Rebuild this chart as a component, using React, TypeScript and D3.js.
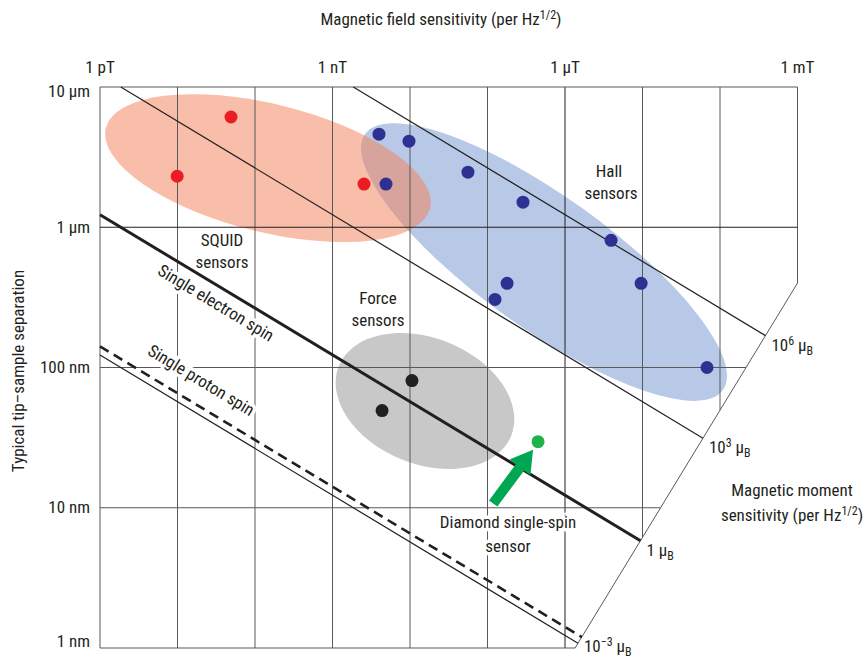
import React from 'react';
import * as d3 from 'd3';

const W = 866;
const H = 658;
const MU_B = 9.274e-24; // J/T
const MU0_OVER_2PI = 2e-7;

// Axis ticks
const fieldTicks = [1e-12, 1e-9, 1e-6, 1e-3]; // tesla
const fieldTickLabels = ['1 pT', '1 nT', '1 μT', '1 mT'];
const distTicks = [10000, 1000, 100, 10, 1]; // nm
const distTickLabels = ['10 μm', '1 μm', '100 nm', '10 nm', '1 nm'];

// Sensor data: field sensitivity (T/√Hz) vs typical tip-sample separation (nm)
const squidB = [4.9e-11, 9.9e-12, 2.55e-9];
const squidR = [6110, 2310, 2030];
const hallB = [3.98e-9, 9.7e-9, 5.6e-8, 2.87e-7, 3.93e-6, 4.9e-9, 1.79e-7, 1.25e-7, 9.6e-6, 6.8e-5];
const hallR = [4610, 4110, 2470, 1510, 807, 2030, 398, 306, 398, 100];
const forceB = [1.06e-8, 4.36e-9];
const forceR = [80.7, 49.3];
const diamondB = [4.49e-7];
const diamondR = [29.6];

// Ellipse regions (centres in data units)
const regionNames = ['SQUID', 'Hall', 'Force'];
const regionCenterB = [1.47e-10, 5.36e-7, 1.56e-8];
const regionCenterR = [2640, 565, 57.7];

// Magnetic moment iso-lines (in Bohr magnetons)
const momentLevels = [1e-3, 1, 1e3, 1e6];
const momentExponents = ['−3', '', '3', '6'];
const electronMoment = 1;
const protonMoment = 1.521e-3;

// Moment-axis boundary (data units)
const boundaryTopB = 1e-3;
const boundaryTopR = 400;
const boundaryBottomB = 1.35e-6;
const boundaryBottomR = 1;

const FONT = "'Liberation Sans Narrow', 'Roboto Condensed', Roboto, sans-serif";
const TXT = '#231f20';
const FS = 17;
const FS_SMALL = 12;

const x = d3.scaleLog().domain([1e-12, 1e-3]).range([100, 797.5]);
const y = d3.scaleLog().domain([1, 1e4]).range([648, 87]);

const fieldOf = (m: number, rNm: number) => MU0_OVER_2PI * m * MU_B / Math.pow(rNm * 1e-9, 3);
const radiusOf = (m: number, B: number) => Math.cbrt(MU0_OVER_2PI * m * MU_B / B) * 1e9;

type P = [number, number];
const P1: P = [x(boundaryTopB), y(boundaryTopR)];
const P2: P = [x(boundaryBottomB), y(boundaryBottomR)];

function intersect(a: P, b: P, c: P, d: P): P {
  const r = [b[0] - a[0], b[1] - a[1]];
  const s = [d[0] - c[0], d[1] - c[1]];
  const den = r[0] * s[1] - r[1] * s[0];
  const t = ((c[0] - a[0]) * s[1] - (c[1] - a[1]) * s[0]) / den;
  return [a[0] + t * r[0], a[1] + t * r[1]];
}

function momentLine(m: number): [P, P] {
  const r0 = radiusOf(m, 1e-12);
  let start: P;
  if (r0 > 1e4) start = [x(fieldOf(m, 1e4)), y(1e4)];
  else start = [x(1e-12), y(r0)];
  const far: P = [x(fieldOf(m, 1)), y(1)];
  const end = intersect(start, far, P1, P2);
  return [start, end];
}

function boundaryYAtX(px: number) {
  if (px <= P2[0]) return P2[1];
  return P2[1] + (px - P2[0]) * (P1[1] - P2[1]) / (P1[0] - P2[0]);
}
function boundaryXAtY(py: number) {
  if (py <= P1[1]) return P1[0];
  return P1[0] + (py - P1[1]) * (P2[0] - P1[0]) / (P2[1] - P1[1]);
}

const ellipseStyle = [
  { a: 167, b: 64, angle: 13.9, fill: '#f4825a', opacity: 0.52 },
  { a: 220, b: 66, angle: 35.6, fill: '#b8c9e7', opacity: 1 },
  { a: 93, b: 63, angle: 22.2, fill: '#c8c8c8', opacity: 1 },
];

function Dots({ B, R, color }: { B: number[]; R: number[]; color: string }) {
  return (
    <g>
      {B.map((b, i) => (
        <circle key={i} cx={x(b)} cy={y(R[i])} r={6.5} fill={color} />
      ))}
    </g>
  );
}

export default function App() {
  const fieldGrid = d3.range(-12, -2).map((e) => Math.pow(10, e));
  const distGrid = d3.range(0, 5).map((e) => Math.pow(10, e));

  const electron = momentLine(electronMoment);
  const proton = momentLine(protonMoment);
  const lineAngle = (Math.atan2(electron[1][1] - electron[0][1], electron[1][0] - electron[0][0]) * 180) / Math.PI;

  // Arrow pointing at diamond sensor
  const dx = x(diamondB[0]);
  const dy = y(diamondR[0]);
  const tip: P = [dx - 5, dy + 8];
  const ang = (-53.5 * Math.PI) / 180;
  const u: P = [Math.cos(ang), Math.sin(ang)];
  const n: P = [-u[1], u[0]];
  const len = 67, headLen = 22, hw = 13, sw = 5.2;
  const tail: P = [tip[0] - u[0] * len, tip[1] - u[1] * len];
  const hb: P = [tip[0] - u[0] * headLen, tip[1] - u[1] * headLen];
  const arrowPts: P[] = [
    [tail[0] + n[0] * sw, tail[1] + n[1] * sw],
    [hb[0] + n[0] * sw, hb[1] + n[1] * sw],
    [hb[0] + n[0] * hw, hb[1] + n[1] * hw],
    tip,
    [hb[0] - n[0] * hw, hb[1] - n[1] * hw],
    [hb[0] - n[0] * sw, hb[1] - n[1] * sw],
    [tail[0] - n[0] * sw, tail[1] - n[1] * sw],
  ];

  // label anchor points along spin lines
  const eLabelB = 10 ** -10.4;
  const eLx = x(eLabelB);
  const eLy = y(radiusOf(electronMoment, eLabelB));
  const pLabelB = 10 ** -10.85;
  const pLx = x(pLabelB);
  const pLy = y(radiusOf(protonMoment, pLabelB));
  const rad = (lineAngle * Math.PI) / 180;
  const perp: P = [-Math.sin(rad), Math.cos(rad)];

  const halo = { stroke: '#fff', strokeWidth: 7, paintOrder: 'stroke' as const, strokeLinejoin: 'round' as const };

  return (
    <svg width={W} height={H} style={{ position: 'absolute', left: 0, top: 0, background: '#fff' }} fontFamily={FONT}>
      <rect width={W} height={H} fill="#fff" />
      {/* ellipses: blue, gray first then translucent red */}
      {[1, 2, 0].map((i) => {
        const s = ellipseStyle[i];
        return (
          <ellipse
            key={regionNames[i]}
            cx={0}
            cy={0}
            rx={s.a}
            ry={s.b}
            fill={s.fill}
            fillOpacity={s.opacity}
            transform={`translate(${x(regionCenterB[i])},${y(regionCenterR[i])}) rotate(${s.angle})`}
          />
        );
      })}

      {/* grid */}
      <g stroke="#58595b" strokeWidth={1}>
        {fieldGrid.map((b, i) => (
          <line key={'v' + i} x1={x(b)} x2={x(b)} y1={y(1e4)} y2={boundaryYAtX(x(b))} stroke={b === 1e-6 ? '#231f20' : '#58595b'} />
        ))}
        {distGrid.map((r, i) => (
          <line key={'h' + i} x1={x(1e-12)} x2={boundaryXAtY(y(r))} y1={y(r)} y2={y(r)} stroke={r === 1000 ? '#231f20' : '#58595b'} />
        ))}
        <line x1={P1[0]} y1={P1[1]} x2={P2[0]} y2={P2[1]} stroke="#58595b" />
      </g>

      {/* moment iso-lines */}
      {momentLevels.map((m, i) => {
        const [s, e] = momentLine(m);
        const thick = m === electronMoment;
        return <line key={'m' + i} x1={s[0]} y1={s[1]} x2={e[0]} y2={e[1]} stroke="#231f20" strokeWidth={thick ? 3 : 1.2} />;
      })}
      <line x1={proton[0][0]} y1={proton[0][1]} x2={proton[1][0]} y2={proton[1][1]} stroke="#231f20" strokeWidth={2.6} strokeDasharray="10 6" />

      {/* data points */}
      <Dots B={squidB} R={squidR} color="#ec1c24" />
      <Dots B={hallB} R={hallR} color="#2e3192" />
      <Dots B={forceB} R={forceR} color="#231f20" />
      <Dots B={diamondB} R={diamondR} color="#1fb14c" />

      {/* arrow */}
      <polygon points={arrowPts.map((p) => p.join(',')).join(' ')} fill="#00a651" />

      {/* top axis */}
      <text x={441} y={25} textAnchor="middle" fontSize={FS} fill={TXT}>
        Magnetic field sensitivity (per Hz<tspan dy={-6} fontSize={FS_SMALL}>1/2</tspan><tspan dy={6}>)</tspan>
      </text>
      {fieldTicks.map((b, i) => (
        <text key={'ft' + i} x={x(b)} y={73} textAnchor="middle" fontSize={FS} fill={TXT}>
          {fieldTickLabels[i]}
        </text>
      ))}

      {/* left axis */}
      {distTicks.map((r, i) => (
        <text
          key={'dt' + i}
          x={90}
          y={y(r) + (r === 1e4 ? 6 : r === 1 ? -5 : 1)}
          textAnchor="end"
          dominantBaseline="middle"
          fontSize={FS}
          fill={TXT}
        >
          {distTickLabels[i]}
        </text>
      ))}
      <text transform="translate(24,371) rotate(-90)" textAnchor="middle" fontSize={FS} fill={TXT}>
        Typical tip–sample separation
      </text>

      {/* moment axis labels */}
      {momentLevels.map((m, i) => {
        const [, e] = momentLine(m);
        const by = Math.min(e[1] + 15, H - 6);
        return (
          <text key={'ml' + i} x={e[0] + 6} y={by} fontSize={FS} fill={TXT}>
            {momentExponents[i] === '' ? '1' : '10'}
            {momentExponents[i] !== '' && (
              <tspan dy={-6} fontSize={FS_SMALL}>
                {momentExponents[i]}
              </tspan>
            )}
            <tspan dy={momentExponents[i] !== '' ? 6 : 0}> μ</tspan>
            <tspan dy={4} fontSize={FS_SMALL}>B</tspan>
          </text>
        );
      })}
      <text x={792} y={496} textAnchor="middle" fontSize={FS} fill={TXT}>
        Magnetic moment
      </text>
      <text x={792} y={521} textAnchor="middle" fontSize={FS} fill={TXT}>
        sensitivity (per Hz<tspan dy={-6} fontSize={FS_SMALL}>1/2</tspan><tspan dy={6}>)</tspan>
      </text>

      {/* region labels */}
      <g fontSize={FS} fill={TXT} textAnchor="middle">
        <text x={222} y={246}>SQUID</text>
        <text x={222} y={268}>sensors</text>
        <text x={378} y={304}>Force</text>
        <text x={378} y={326}>sensors</text>
        <text x={609} y={177}>Hall</text>
        <text x={611} y={199}>sensors</text>
        <text x={508} y={528} {...halo}>Diamond single-spin</text>
        <text x={508} y={552} {...halo}>sensor</text>
      </g>

      {/* spin line labels */}
      <text
        transform={`translate(${eLx + perp[0] * 17},${eLy + perp[1] * 17}) rotate(${lineAngle})`}
        textAnchor="middle"
        dominantBaseline="middle"
        fontSize={FS}
        fill={TXT}
        {...halo}
      >
        Single electron spin
      </text>
      <text
        transform={`translate(${pLx - perp[0] * 22},${pLy - perp[1] * 22}) rotate(${lineAngle})`}
        textAnchor="middle"
        dominantBaseline="middle"
        fontSize={FS}
        fill={TXT}
        {...halo}
      >
        Single proton spin
      </text>
    </svg>
  );
}
